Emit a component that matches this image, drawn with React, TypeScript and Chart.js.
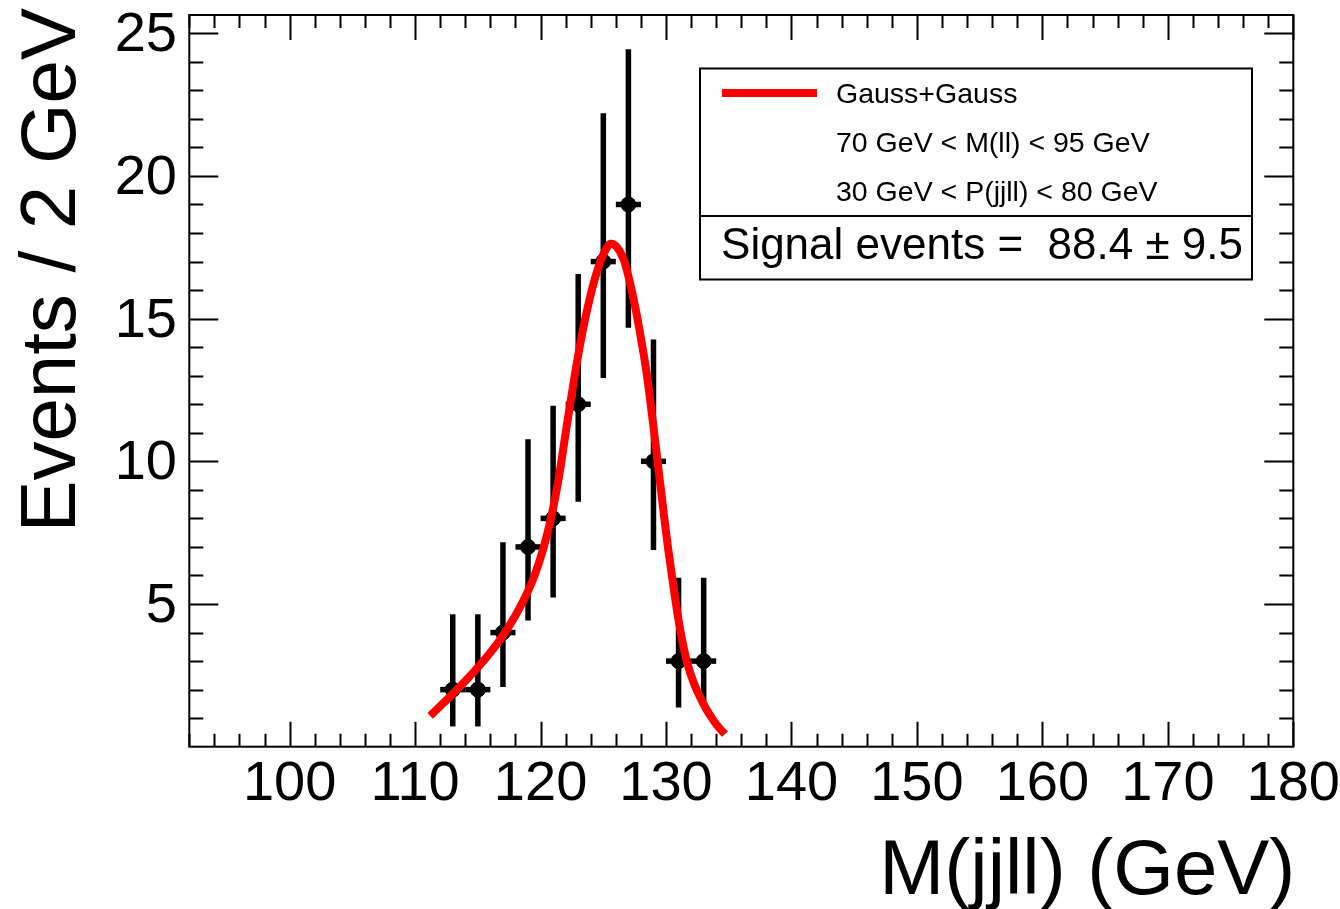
import React, { useEffect, useRef } from 'react';
import { Chart, registerables } from 'chart.js';

Chart.register(...registerables);

// ---------- data ----------
const massBins = [113, 115, 117, 119, 121, 123, 125, 127, 129, 131, 133];
const events = [2, 2, 4, 7, 8, 12, 17, 19, 10, 3, 3];
const errLower = [0.71, 0.71, 2.09, 4.42, 5.23, 8.58, 12.92, 14.68, 6.89, 1.37, 1.37];
const errUpper = [4.64, 4.64, 7.16, 10.77, 11.95, 16.56, 22.2, 24.44, 14.27, 5.92, 5.92];
const binHalfWidth = 1;

const fitMass = [
  111.2, 112.0, 113.0, 114.0, 115.0, 116.0, 117.0, 118.0, 119.0, 119.5, 120.0, 120.5,
  121.0, 121.5, 122.0, 122.5, 123.0, 123.5, 124.0, 124.5, 125.0, 125.6, 126.1, 126.6,
  127.05, 127.5, 127.85, 128.2, 128.5, 128.75, 129.0, 129.25, 129.5, 129.8, 130.15, 130.5,
  130.9, 131.3, 131.7, 132.2, 132.7, 133.2, 133.77, 134.2, 134.7,
];
const fitValue = [
  1.08, 1.42, 1.85, 2.3, 2.78, 3.3, 3.9, 4.6, 5.45, 5.98, 6.62, 7.4,
  8.35, 9.55, 11.0, 12.4, 13.72, 14.88, 15.85, 16.65, 17.25, 17.62, 17.5, 17.1,
  16.4, 15.5, 14.7, 13.8, 12.95, 12.1, 11.2, 10.28, 9.35, 8.25, 7.0, 5.9,
  4.7, 3.7, 2.92, 2.25, 1.75, 1.32, 0.93, 0.68, 0.44,
];

const xMajorTicks = [100, 110, 120, 130, 140, 150, 160, 170, 180];
const xMinorTicks = [
  92, 94, 96, 98, 100, 102, 104, 106, 108, 110, 112, 114, 116, 118, 120, 122, 124, 126, 128,
  130, 132, 134, 136, 138, 140, 142, 144, 146, 148, 150, 152, 154, 156, 158, 160, 162, 164,
  166, 168, 170, 172, 174, 176, 178, 180,
];
const yMajorTicks = [5, 10, 15, 20, 25];
const yMinorTicks = [
  1, 2, 3, 4, 5, 6, 7, 8, 9, 10, 11, 12, 13, 14, 15, 16, 17, 18, 19, 20, 21, 22, 23, 24, 25,
];

const xTitle = 'M(jjll) (GeV)';
const yTitle = 'Events / 2 GeV';
const legendFit = 'Gauss+Gauss';
const legendCut1 = '70 GeV < M(ll) < 95 GeV';
const legendCut2 = '30 GeV < P(jjll) < 80 GeV';
const signalText = 'Signal events =  88.4 \u00b1 9.5';

const X_MIN = 92;
const X_MAX = 180;
const Y_MIN = 0;
const Y_MAX = 25.64;

const FONT = '"Liberation Sans", Arial, Helvetica, sans-serif';

const rootStylePlugin = {
  id: 'rootStyle',
  beforeDraw(chart: any) {
    const ctx = chart.ctx;
    ctx.save();
    ctx.fillStyle = '#ffffff';
    ctx.fillRect(0, 0, chart.width, chart.height);
    ctx.restore();
  },
  beforeDatasetsDraw(chart: any) {
    const ctx = chart.ctx;
    const xs = chart.scales.x;
    const ys = chart.scales.y;
    ctx.save();
    ctx.strokeStyle = '#000000';
    ctx.lineWidth = 5.5;
    ctx.lineCap = 'butt';
    for (let i = 0; i < massBins.length; i++) {
      const px = xs.getPixelForValue(massBins[i]);
      const py = ys.getPixelForValue(events[i]);
      ctx.beginPath();
      ctx.moveTo(px, ys.getPixelForValue(errLower[i]));
      ctx.lineTo(px, ys.getPixelForValue(errUpper[i]));
      ctx.stroke();
      ctx.beginPath();
      ctx.moveTo(xs.getPixelForValue(massBins[i] - binHalfWidth), py);
      ctx.lineTo(xs.getPixelForValue(massBins[i] + binHalfWidth), py);
      ctx.stroke();
    }
    ctx.restore();
  },
  afterDraw(chart: any) {
    const ctx = chart.ctx;
    const xs = chart.scales.x;
    const ys = chart.scales.y;
    const { left, right, top, bottom } = chart.chartArea;
    ctx.save();
    ctx.strokeStyle = '#000000';
    ctx.lineWidth = 2;
    ctx.lineCap = 'butt';
    // ticks
    ctx.beginPath();
    for (const v of xMinorTicks) {
      const px = Math.round(xs.getPixelForValue(v)) + 0.5;
      const len = xMajorTicks.includes(v) ? 25 : 13;
      ctx.moveTo(px, bottom);
      ctx.lineTo(px, bottom - len);
      ctx.moveTo(px, top);
      ctx.lineTo(px, top + len);
    }
    for (const v of yMinorTicks) {
      const py = Math.round(ys.getPixelForValue(v)) + 0.5;
      const len = yMajorTicks.includes(v) ? 29 : 14;
      ctx.moveTo(left, py);
      ctx.lineTo(left + len, py);
      ctx.moveTo(right, py);
      ctx.lineTo(right - len, py);
    }
    ctx.stroke();
    // frame
    ctx.strokeRect(left, top, right - left, bottom - top);

    // tick labels
    ctx.fillStyle = '#000000';
    ctx.font = `56px ${FONT}`;
    ctx.textBaseline = 'alphabetic';
    ctx.textAlign = 'center';
    for (const v of xMajorTicks) {
      ctx.fillText(String(v), xs.getPixelForValue(v), 799.5);
    }
    ctx.textAlign = 'right';
    for (const v of yMajorTicks) {
      ctx.fillText(String(v), 177, ys.getPixelForValue(v) + 18);
    }

    // axis titles
    ctx.font = `78px ${FONT}`;
    ctx.textAlign = 'right';
    ctx.fillText(xTitle, right + 2, 894);
    ctx.save();
    ctx.translate(75, 8);
    ctx.rotate(-Math.PI / 2);
    ctx.textAlign = 'right';
    ctx.fillText(yTitle, 0, 0);
    ctx.restore();

    // legend box
    const bx0 = 700, bx1 = 1252, by0 = 68.5, by1 = 279.5, bdiv = 216;
    ctx.lineWidth = 2;
    ctx.strokeRect(bx0, by0, bx1 - bx0, by1 - by0);
    ctx.beginPath();
    ctx.moveTo(bx0, bdiv);
    ctx.lineTo(bx1, bdiv);
    ctx.stroke();

    ctx.strokeStyle = '#ff0000';
    ctx.lineWidth = 8;
    ctx.beginPath();
    ctx.moveTo(722, 93);
    ctx.lineTo(817, 93);
    ctx.stroke();

    ctx.fillStyle = '#000000';
    ctx.font = `28.5px ${FONT}`;
    ctx.textAlign = 'left';
    ctx.fillText(legendFit, 836, 103);
    ctx.fillText(legendCut1, 836, 152);
    ctx.fillText(legendCut2, 836, 201);

    ctx.font = `44px ${FONT}`;
    ctx.textAlign = 'center';
    ctx.fillText(signalText, 982, 259);
    ctx.restore();
  },
};

export default function App() {
  const canvasRef = useRef<HTMLCanvasElement | null>(null);

  useEffect(() => {
    const canvas = canvasRef.current;
    if (!canvas) return;
    const chart = new Chart(canvas, {
      type: 'scatter',
      data: {
        datasets: [
          {
            type: 'line',
            label: legendFit,
            data: fitMass.map((m, i) => ({ x: m, y: fitValue[i] })),
            borderColor: '#ff0000',
            borderWidth: 8,
            borderCapStyle: 'butt',
            borderJoinStyle: 'round',
            pointRadius: 0,
            fill: false,
            cubicInterpolationMode: 'monotone',
            showLine: true,
          } as any,
          {
            type: 'scatter',
            label: 'data',
            data: massBins.map((m, i) => ({ x: m, y: events[i] })),
            pointRadius: 7.5,
            pointBackgroundColor: '#000000',
            pointBorderColor: '#000000',
            pointBorderWidth: 1,
            showLine: false,
          } as any,
        ],
      },
      options: {
        responsive: false,
        animation: false,
        devicePixelRatio: 1,
        layout: {
          padding: { left: 189.3, top: 15, right: 46.7, bottom: 162.3 },
        },
        plugins: {
          legend: { display: false },
          tooltip: { enabled: false },
        },
        scales: {
          x: { type: 'linear', min: X_MIN, max: X_MAX, display: false },
          y: { type: 'linear', min: Y_MIN, max: Y_MAX, display: false },
        },
      },
      plugins: [rootStylePlugin],
    });
    return () => chart.destroy();
  }, []);

  return (
    <div style={{ position: 'absolute', left: 0, top: 0, width: 1340, height: 909, background: '#fff' }}>
      <canvas ref={canvasRef} width={1340} height={909} style={{ display: 'block' }} />
    </div>
  );
}
